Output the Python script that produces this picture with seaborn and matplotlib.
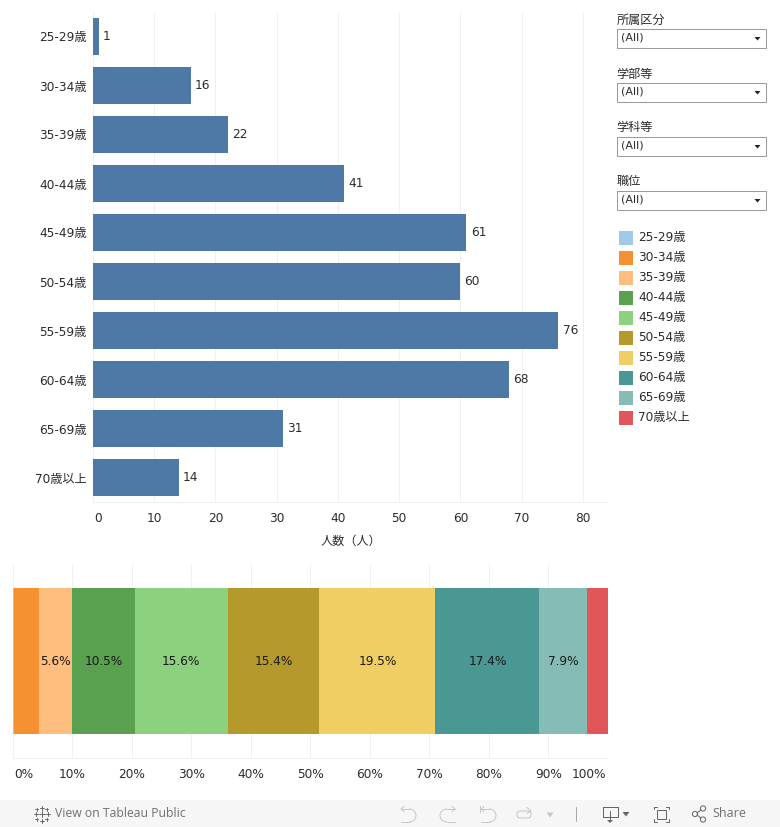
import matplotlib
matplotlib.use("Agg")
import matplotlib.pyplot as plt
from matplotlib.patches import Rectangle, Arc, Polygon, FancyBboxPatch
from matplotlib.transforms import ScaledTranslation
import seaborn as sns
import numpy as np

sns.set_theme(style="white")
plt.rcParams['font.family'] = ['DejaVu Sans', 'Noto Sans CJK JP']

ages = ["25-29歳", "30-34歳", "35-39歳", "40-44歳", "45-49歳",
        "50-54歳", "55-59歳", "60-64歳", "65-69歳", "70歳以上"]
counts = [1, 16, 22, 41, 61, 60, 76, 68, 31, 14]
shares = [0.26, 4.10, 5.64, 10.51, 15.64, 15.38, 19.49, 17.44, 7.95, 3.59]
share_labels = ["", "", "5.6%", "10.5%", "15.6%", "15.4%", "19.5%", "17.4%", "7.9%", ""]
colors = ["#A0CBE8", "#F59130", "#FFBE7D", "#59A14F", "#8CD17D",
          "#B6992D", "#F1CE63", "#499894", "#86BCB6", "#E15759"]
filters = ["所属区分", "学部等", "学科等", "職位"]
count_ticks = [0, 10, 20, 30, 40, 50, 60, 70, 80]
pct_ticks = [0, 10, 20, 30, 40, 50, 60, 70, 80, 90, 100]

W, H = 780, 827
TXT = "#2b2b2b"
GRID = "#F0F0F0"
FS = 8.75
LW = 0.72
fig = plt.figure(figsize=(W / 100, H / 100), dpi=100, facecolor="white")

def px_axes(l, t, r, b):
    return fig.add_axes([l / W, 1 - b / H, (r - l) / W, (b - t) / H])

def nudge(label, dx_px):
    label.set_transform(label.get_transform() + ScaledTranslation(dx_px / 100, 0, fig.dpi_scale_trans))

ov = fig.add_axes([0, 0, 1, 1], zorder=5)
ov.set_xlim(0, W); ov.set_ylim(H, 0); ov.axis("off"); ov.patch.set_alpha(0)

# ---- top chart
ax = px_axes(92.8, 12, 608, 502)
sns.barplot(x=counts, y=ages, orient="h", color="#4E79A7", saturation=1,
            width=0.755, ax=ax, zorder=3, linewidth=0, edgecolor="none")
ax.set_xlim(0, 84.1)
ax.set_ylim(9.5, -0.5)
ax.set_xticks(count_ticks)
ax.set_xticklabels(count_ticks, fontsize=FS, color=TXT)
ax.tick_params(axis="x", length=4, width=LW, color=GRID, pad=3)
ax.tick_params(axis="y", length=0, pad=4.5, labelsize=FS, labelcolor=TXT)
ax.get_xticklabels()[0].set_ha("left")
nudge(ax.get_xticklabels()[0], 1)
ax.grid(axis="x", color=GRID, lw=LW, zorder=0)
ax.set_axisbelow(True)
for s in ["top", "right"]:
    ax.spines[s].set_visible(False)
for s in ["left", "bottom"]:
    ax.spines[s].set_color(GRID); ax.spines[s].set_linewidth(LW)
ax.set_xlabel("人数（人）", fontsize=FS, color=TXT, labelpad=7.2)
ax.bar_label(ax.containers[0], labels=[str(c) for c in counts], padding=3,
             fontsize=FS, color=TXT)

# ---- bottom stacked chart
bx = px_axes(12.7, 563.5, 608, 758)
cum = np.cumsum(shares)
for i in range(len(shares) - 1, -1, -1):
    sns.barplot(x=[cum[i]], y=["全体"], orient="h", color=colors[i], saturation=1,
                width=0.749, ax=bx, zorder=3, linewidth=0, edgecolor="none")
bx.set_xlim(0, 100)
bx.set_ylim(0.5, -0.5)
bx.set_yticks([])
bx.set_ylabel("")
bx.set_xticks(pct_ticks)
bx.set_xticklabels([f"{p}%" for p in pct_ticks], fontsize=FS, color=TXT)
bx.tick_params(axis="x", length=4, width=LW, color=GRID, pad=3.2)
bx.get_xticklabels()[0].set_ha("left")
bx.get_xticklabels()[-1].set_ha("right")
nudge(bx.get_xticklabels()[0], 1.5)
nudge(bx.get_xticklabels()[-1], -1.5)
bx.grid(axis="x", color=GRID, lw=LW, zorder=0)
bx.set_axisbelow(True)
for s in ["top", "right", "left"]:
    bx.spines[s].set_visible(False)
bx.spines["bottom"].set_color(GRID); bx.spines["bottom"].set_linewidth(LW)
for i, lab in enumerate(share_labels):
    if lab:
        bx.text(cum[i] - shares[i] / 2, 0.006, lab, ha="center", va="center",
                fontsize=FS, color="#1a1a1a", zorder=6)

# ---- filters
for name, ty in zip(filters, [20, 74, 128, 182]):
    ov.text(616.5, ty, name, fontsize=FS, color=TXT, va="center", ha="left")
    ov.add_patch(Rectangle((617, ty + 9), 149, 19, fc="white", ec="#9a9a9a", lw=LW))
    ov.text(620.5, ty + 18, "(All)", fontsize=8, color=TXT, va="center", ha="left")
    ov.add_patch(Polygon([[754.5, ty + 17], [760.5, ty + 17], [757.5, ty + 20.5]], fc="#222222", ec="none"))

# ---- legend
for i, (a, c) in enumerate(zip(ages, colors)):
    y = 237.5 + 20 * i
    ov.add_patch(Rectangle((619, y - 7), 14, 14, fc=c, ec="none"))
    ov.text(638, y - 0.5, a, fontsize=FS, color=TXT, va="center", ha="left")

# ---- footer
ov.add_patch(Rectangle((0, 800), W, 27, fc="#F6F6F6", ec="none"))
ov.text(55, 813.5, "View on Tableau Public", fontsize=8.85, color="#707070", va="center",
        ha="left", family=["Open Sans", "DejaVu Sans"])
ov.text(712, 813.5, "Share", fontsize=9, color="#707070", va="center", ha="left",
        family=["Open Sans", "DejaVu Sans"])
ic = "#666666"; dim = "#C8C8C8"
for (cx, cy, s) in [(41.5, 814, 3), (35.5, 814, 2), (47.5, 814, 2), (41.5, 807.5, 2), (41.5, 820.5, 2),
                    (36.5, 809, 1.5), (46.5, 809, 1.5), (36.5, 819, 1.5), (46.5, 819, 1.5)]:
    ov.plot([cx - s, cx + s], [cy, cy], color=ic, lw=0.7)
    ov.plot([cx, cx], [cy - s, cy + s], color=ic, lw=0.7)
# undo
ov.add_patch(Arc((409, 815.5), 14, 13, theta1=-90, theta2=90, color=dim, lw=LW))
ov.plot([401, 409], [809, 809], color=dim, lw=LW)
ov.plot([404, 401, 404], [806.5, 809, 811.5], color=dim, lw=LW)
ov.plot([401, 409], [822, 822], color=dim, lw=LW)
# redo
ov.add_patch(Arc((447, 815.5), 14, 13, theta1=90, theta2=270, color=dim, lw=LW))
ov.plot([447, 455], [809, 809], color=dim, lw=LW)
ov.plot([452, 455, 452], [806.5, 809, 811.5], color=dim, lw=LW)
ov.plot([447, 455], [822, 822], color=dim, lw=LW)
# revert
ov.add_patch(Arc((489, 815.5), 14, 13, theta1=-90, theta2=90, color=dim, lw=LW))
ov.plot([481, 489], [809, 809], color=dim, lw=LW)
ov.plot([480, 480], [805.5, 812], color=dim, lw=LW)
ov.plot([484, 481.5, 484], [806.5, 809, 811.5], color=dim, lw=LW)
ov.plot([481, 489], [822, 822], color=dim, lw=LW)
# refresh
ov.add_patch(FancyBboxPatch((517, 811), 14, 7, boxstyle="round,pad=0,rounding_size=3",
                            fc="none", ec=dim, lw=LW))
ov.plot([527, 531, 527], [807.5, 811, 813.5], color=dim, lw=LW)
ov.add_patch(Polygon([[546.5, 812.5], [553.5, 812.5], [550, 817.5]], fc=dim, ec="none"))
ov.plot([575.5, 575.5], [807, 821], color="#AAAAAA", lw=LW)
# download
ov.plot([602.5, 602.5, 617.5, 617.5, 602.5], [806.5, 816.5, 816.5, 806.5, 806.5], color=ic, lw=LW)
ov.plot([610, 610], [811, 821], color=ic, lw=LW)
ov.add_patch(Polygon([[607, 820], [613, 820], [610, 823]], fc=ic, ec="none"))
ov.add_patch(Polygon([[622.5, 812], [629.5, 812], [626, 816.5]], fc=ic, ec="none"))
# fullscreen
for xs, ys in [([653.5, 653.5, 656.5], [809, 806.5, 806.5]), ([665.5, 668.5, 668.5], [806.5, 806.5, 809]),
               ([653.5, 653.5, 656.5], [819, 821.5, 821.5]), ([665.5, 668.5, 668.5], [821.5, 821.5, 819])]:
    ov.plot(xs, ys, color=ic, lw=LW)
ov.add_patch(Rectangle((656.5, 809.5), 9, 9, fc="none", ec=ic, lw=LW))
# share
for (cx, cy) in [(695, 814), (703, 808.5), (703, 819.5)]:
    ov.add_patch(plt.Circle((cx, cy), 2.6, fc="none", ec=ic, lw=LW))
ov.plot([697, 701], [813, 810], color=ic, lw=LW)
ov.plot([697, 701], [815, 818], color=ic, lw=LW)

fig.savefig("out.png", dpi=100)
